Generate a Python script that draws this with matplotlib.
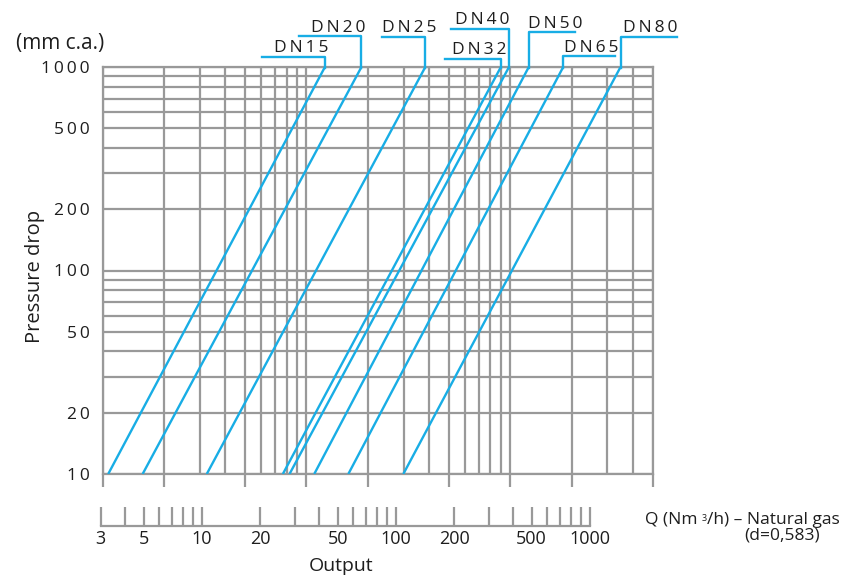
import matplotlib
matplotlib.use('Agg')
import matplotlib.pyplot as plt
from matplotlib.ticker import FixedLocator, NullFormatter
from matplotlib.lines import Line2D
from matplotlib.transforms import IdentityTransform

# ---------------- data ----------------
sizes = ['DN15', 'DN20', 'DN25', 'DN32', 'DN40', 'DN50', 'DN65', 'DN80']
dp_range = [10, 1000]                          # pressure drop (mm c.a.)
q_at_10 = [3.20, 4.72, 9.74, 23.0, 24.8, 32.8, 48.2, 89.7]       # Nm3/h at 10 mm
q_at_1000 = [37.0, 55.9, 115.0, 270.0, 296.0, 370.0, 546.0, 1043.0]  # Nm3/h at 1000 mm

y_ticks = [10, 20, 50, 100, 200, 500, 1000]
grid_major_q = [3, 6, 15, 30, 60, 150, 300, 600, 1500]
out_major = [3, 5, 10, 20, 50, 100, 200, 500, 1000]

# ---------------- layout (leaders, in pixels) ----------------
leader_rise = [10, 31, 30, 8, 38, 35, 11, 30]
leader_len = [-63, -62, -43, -56, -58, 46, 52, 56]
label_dx = [-23.5, -23.6, -16, -21.7, -27, 26.8, 28, 29.5]

W, H = 850, 578
GRID = '#999999'
BLUE = '#18ade5'
TXT = '#1e1e1e'
FAM = ['Open Sans', 'DejaVu Sans']
plt.rcParams['font.family'] = FAM

def spaced(s):
    return '\u2009'.join(s)

fig = plt.figure(figsize=(W / 100, H / 100), dpi=100)
fig.patch.set_facecolor('white')
ID = IdentityTransform()

x0, x1 = 102.5, 652.7
ytop, ybot = 67, 474
ax = fig.add_axes([x0 / W, (H - ybot) / H, (x1 - x0) / W, (ybot - ytop) / H])
ax.set_xscale('log')
ax.set_yscale('log')
ax.set_xlim(3, 1500)
ax.set_ylim(10, 1000)

# grid lines
xminor = [3 * m * 10 ** k for k in range(3) for m in range(1, 10) if 3 * m * 10 ** k < 1500]
yminor = [m * 10 ** k for k in (1, 2) for m in range(1, 10)]
ax.xaxis.set_major_locator(FixedLocator(grid_major_q))
ax.xaxis.set_minor_locator(FixedLocator(xminor))
ax.xaxis.set_major_formatter(NullFormatter())
ax.xaxis.set_minor_formatter(NullFormatter())
ax.yaxis.set_major_locator(FixedLocator(y_ticks))
ax.yaxis.set_minor_locator(FixedLocator(yminor))
ax.yaxis.set_minor_formatter(NullFormatter())
ax.set_yticklabels([spaced(str(v)) for v in y_ticks])
ax.grid(True, which='both', color=GRID, lw=1.6)
ax.set_axisbelow(True)
for s in ax.spines.values():
    s.set_color(GRID)
    s.set_linewidth(1.6)
ax.tick_params(axis='x', which='major', direction='out', length=9, width=1.6, color=GRID)
ax.tick_params(axis='x', which='minor', length=0)
ax.tick_params(axis='y', which='both', length=0, pad=9, labelsize=12.5, labelcolor=TXT)

# curves
for qa, qb in zip(q_at_10, q_at_1000):
    ax.plot([qa, qb], dp_range, color=BLUE, lw=1.7, solid_capstyle='butt', zorder=3)

# leaders and labels
for name, qb, rise, ln, dx in zip(sizes, q_at_1000, leader_rise, leader_len, label_dx):
    px, py = ax.transData.transform((qb, dp_range[1]))
    line = Line2D([px, px, px + ln], [py - 1, py + rise, py + rise], color=BLUE, lw=1.7,
                  transform=ID, clip_on=False)
    fig.add_artist(line)
    fig.text(px + dx, py + rise + 4.5, spaced(name), transform=ID,
             ha='center', va='baseline', fontsize=12.5, color=TXT)

fig.text(60, H - 43, '(mm c.a.)', transform=ID, ha='center', va='center', fontsize=15, color=TXT)
fig.text(35, H - 276, 'Pressure drop', transform=ID, rotation=90, ha='center', va='center',
         fontsize=14.5, color=TXT)

# ---------------- output axis ----------------
ox0, ox1, oy = 100.7, 590, 526
ax2 = fig.add_axes([ox0 / W, (H - oy) / H, (ox1 - ox0) / W, 20 / H])
ax2.set_facecolor('none')
ax2.set_xscale('log')
ax2.set_xlim(3, 1000)
ax2.set_ylim(0, 1)
for k in ('left', 'right', 'top'):
    ax2.spines[k].set_visible(False)
ax2.spines['bottom'].set_color(GRID)
ax2.spines['bottom'].set_linewidth(1.6)
ax2.set_yticks([])
out_minor = [m * 10 ** k for k in range(3) for m in range(1, 10)
             if 3 <= m * 10 ** k <= 1000 and m * 10 ** k not in out_major]
ax2.xaxis.set_major_locator(FixedLocator(out_major))
ax2.xaxis.set_minor_locator(FixedLocator(out_minor))
ax2.xaxis.set_minor_formatter(NullFormatter())
ax2.set_xticklabels([str(v) for v in out_major])
ax2.tick_params(axis='x', which='both', direction='in', length=14, width=1.6, color=GRID,
                labelsize=13, labelcolor=TXT, pad=3)

fig.text(341, H - 566, 'Output', transform=ID, ha='center', va='center', fontsize=14, color=TXT)

# right-hand unit label with a small superscript
r = fig.canvas.get_renderer()
yb = H - 524
t1 = fig.text(645, yb, 'Q (Nm ', transform=ID, ha='left', va='baseline', fontsize=12.5, color=TXT)
bb1 = t1.get_window_extent(r)
t2 = fig.text(bb1.x1, yb + 3, '3', transform=ID, ha='left', va='baseline', fontsize=6.5, color=TXT)
bb2 = t2.get_window_extent(r)
fig.text(bb2.x1, yb, '/h) \u2013 Natural gas', transform=ID, ha='left', va='baseline',
         fontsize=12.5, color=TXT)
fig.text(782, H - 536, '(d=0,583)', transform=ID, ha='center', va='center', fontsize=12.5, color=TXT)

fig.savefig('out.png', dpi=100, facecolor='white')
